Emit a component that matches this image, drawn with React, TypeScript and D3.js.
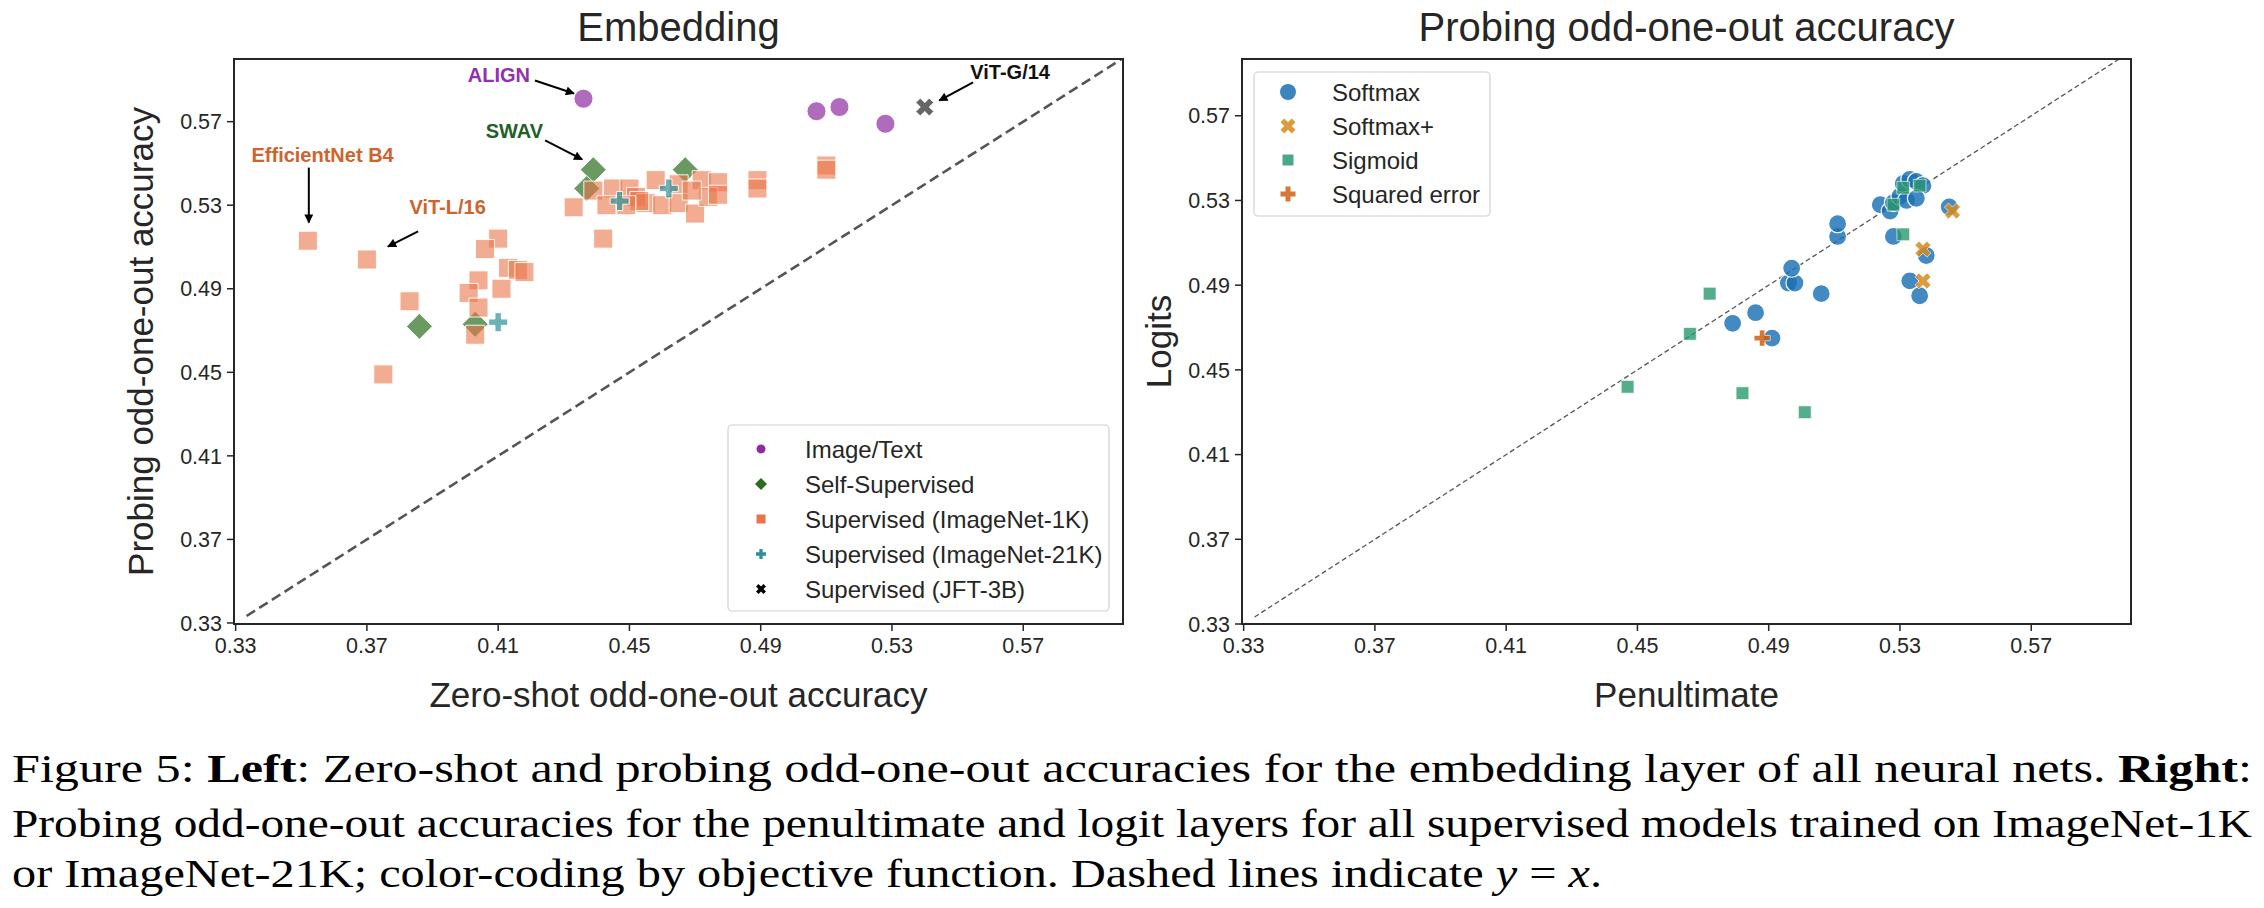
import * as d3 from "d3"

const TICKS = [0.33, 0.37, 0.41, 0.45, 0.49, 0.53, 0.57]

// left panel: [zero-shot, probing]
const imageText = [[0.436, 0.581], [0.507, 0.575], [0.514, 0.577], [0.528, 0.569]]
const selfSupervised = [[0.439, 0.547], [0.437, 0.538], [0.467, 0.547], [0.386, 0.472], [0.403, 0.473]]
const supervised1k = [
  [0.352, 0.513], [0.370, 0.504], [0.383, 0.484], [0.375, 0.449], [0.410, 0.514],
  [0.406, 0.509], [0.413, 0.500], [0.416, 0.499], [0.418, 0.498], [0.404, 0.494],
  [0.401, 0.488], [0.411, 0.490], [0.404, 0.481], [0.403, 0.468], [0.433, 0.529],
  [0.442, 0.514], [0.439, 0.537], [0.445, 0.538], [0.450, 0.538], [0.443, 0.530],
  [0.452, 0.534], [0.455, 0.531], [0.458, 0.542], [0.460, 0.530], [0.465, 0.540],
  [0.465, 0.531], [0.470, 0.526], [0.472, 0.542], [0.477, 0.541], [0.474, 0.534],
  [0.489, 0.542], [0.489, 0.538], [0.510, 0.549], [0.510, 0.547], [0.453, 0.532],
  [0.449, 0.530], [0.469, 0.537], [0.477, 0.535],
]
const supervised21k = [[0.447, 0.532], [0.462, 0.538], [0.410, 0.474]]
const jft3b = [[0.540, 0.577]]

// right panel: [penultimate, logits]
const softmax = [
  [0.479, 0.472], [0.486, 0.477], [0.491, 0.465], [0.496, 0.491], [0.498, 0.491],
  [0.497, 0.498], [0.506, 0.486], [0.511, 0.513], [0.511, 0.519], [0.524, 0.528],
  [0.527, 0.525], [0.528, 0.529], [0.530, 0.532], [0.531, 0.538], [0.533, 0.540],
  [0.535, 0.539], [0.537, 0.537], [0.532, 0.530], [0.535, 0.531], [0.528, 0.513],
  [0.533, 0.492], [0.536, 0.485], [0.538, 0.504], [0.545, 0.527],
]
const softmaxPlus = [[0.546, 0.525], [0.537, 0.507], [0.537, 0.492]]
const sigmoid = [
  [0.447, 0.442], [0.466, 0.467], [0.472, 0.486], [0.482, 0.439], [0.501, 0.430],
  [0.531, 0.536], [0.536, 0.537], [0.528, 0.528], [0.531, 0.514],
]
const squaredError = [[0.488, 0.465]]

const leftLegend = ["Image/Text", "Self-Supervised", "Supervised (ImageNet-1K)", "Supervised (ImageNet-21K)", "Supervised (JFT-3B)"]
const rightLegend = ["Softmax", "Softmax+", "Sigmoid", "Squared error"]

// label, colour, text position, arrow from -> to (all in data units)
const annotations = [
  { label: "ALIGN", color: "#9230b3", text: [0.4197, 0.5892], anchor: "end", from: [0.4212, 0.5897], to: [0.4331, 0.5835] },
  { label: "SWAV", color: "#22602a", text: [0.4237, 0.5624], anchor: "end", from: [0.4243, 0.561], to: [0.4356, 0.5519] },
  { label: "EfficientNet B4", color: "#d0632d", text: [0.3565, 0.5509], anchor: "middle", from: [0.3523, 0.548], to: [0.3523, 0.5217] },
  { label: "ViT-L/16", color: "#d0632d", text: [0.3946, 0.526], anchor: "middle", from: [0.3856, 0.5175], to: [0.3764, 0.5102] },
  { label: "ViT-G/14", color: "#111", text: [0.566, 0.5902], anchor: "middle", from: [0.5547, 0.5888], to: [0.5444, 0.5801] },
]

const FONT = "Liberation Sans, Arial, Helvetica, sans-serif"
const SERIF = "'Liberation Serif', 'Times New Roman', serif"
const INK = "#262626"
const TOP = 59
const BOTTOM = 624
const LEFT_X = [234, 1123]
const RIGHT_X = [1242, 2131]

const crossSize = (e: number) => 5 * (e / 3) ** 2
const xSize = (e: number) => 5 * (e / 2.83) ** 2

type Shape = "circle" | "square" | "diamond" | "plus" | "x"

const Marker = ({ shape, x, y, size, fill, opacity = 1, stroke = "none", sw = 0 }: {
  shape: Shape; x: number; y: number; size: number; fill: string; opacity?: number; stroke?: string; sw?: number
}) => {
  if (shape === "circle")
    return <circle cx={x} cy={y} r={size / 2} fill={fill} fillOpacity={opacity} stroke={stroke} strokeWidth={sw} />
  let d = ""
  let rot = 0
  if (shape === "square") d = d3.symbol(d3.symbolSquare, size * size)()!
  if (shape === "diamond") { d = d3.symbol(d3.symbolSquare, (size * size) / 2)()!; rot = 45 }
  if (shape === "plus") d = d3.symbol(d3.symbolCross, crossSize(size))()!
  if (shape === "x") { d = d3.symbol(d3.symbolCross, xSize(size))()!; rot = 45 }
  return (
    <path d={d} transform={`translate(${x},${y}) rotate(${rot})`} fill={fill} fillOpacity={opacity} stroke={stroke} strokeWidth={sw} />
  )
}

const Axes = ({ x, y, title, xLabel, yLabel, labelX }: {
  x: d3.ScaleLinear<number, number>; y: d3.ScaleLinear<number, number>; title: string; xLabel: string; yLabel: string; labelX: number
}) => {
  const [x0, x1] = x.range()
  const cx = (x0 + x1) / 2
  return (
    <g fontFamily={FONT} fill={INK}>
      <text x={cx} y={41} textAnchor="middle" fontSize={40}>{title}</text>
      {TICKS.map((t) => (
        <g key={"x" + t}>
          <line x1={x(t)} x2={x(t)} y1={BOTTOM} y2={BOTTOM + 7} stroke={INK} strokeWidth={1.5} />
          <text x={x(t)} y={653} textAnchor="middle" fontSize={21.5}>{t.toFixed(2)}</text>
        </g>
      ))}
      {TICKS.map((t) => (
        <g key={"y" + t}>
          <line x1={x0 - 7} x2={x0} y1={y(t)} y2={y(t)} stroke={INK} strokeWidth={1.5} />
          <text x={x0 - 12} y={y(t)} dy="0.36em" textAnchor="end" fontSize={21.5}>{t.toFixed(2)}</text>
        </g>
      ))}
      <text x={cx} y={707} textAnchor="middle" fontSize={35}>{xLabel}</text>
      <text transform={`translate(${labelX},${(TOP + BOTTOM) / 2}) rotate(-90)`} textAnchor="middle" fontSize={35}>{yLabel}</text>
    </g>
  )
}

const Frame = ({ x }: { x: d3.ScaleLinear<number, number> }) => {
  const [x0, x1] = x.range()
  return <rect x={x0} y={TOP} width={x1 - x0} height={BOTTOM - TOP} fill="none" stroke={INK} strokeWidth={2} />
}

export default function App() {
  const xl = d3.scaleLinear().domain([0.3295, 0.6004]).range(LEFT_X)
  const yl = d3.scaleLinear().domain([0.3295, 0.6]).range([BOTTOM, TOP])
  const xr = d3.scaleLinear().domain([0.3295, 0.6004]).range(RIGHT_X)
  const yr = d3.scaleLinear().domain([0.33, 0.5968]).range([BOTTOM, TOP])

  const leftSeries: { data: number[][]; shape: Shape; size: number; color: string; alpha: number; legendSize: number }[] = [
    { data: imageText, shape: "circle", size: 19, color: "#8e2c9f", alpha: 0.7, legendSize: 9 },
    { data: selfSupervised, shape: "diamond", size: 26, color: "#2b6d1e", alpha: 0.7, legendSize: 12 },
    { data: supervised1k, shape: "square", size: 19, color: "#ea7447", alpha: 0.6, legendSize: 9 },
    { data: supervised21k, shape: "plus", size: 19, color: "#2e9096", alpha: 0.7, legendSize: 10 },
    { data: jft3b, shape: "x", size: 18, color: "#000000", alpha: 0.6, legendSize: 10 },
  ]
  const drawOrder = [1, 2, 3, 0, 4]

  const rightSeries: { data: number[][]; shape: Shape; size: number; color: string; alpha: number; legendSize: number }[] = [
    { data: softmax, shape: "circle", size: 18, color: "#1a6fb5", alpha: 0.82, legendSize: 16 },
    { data: softmaxPlus, shape: "x", size: 16, color: "#d68a1c", alpha: 0.85, legendSize: 15 },
    { data: sigmoid, shape: "square", size: 12.7, color: "#2a9a6e", alpha: 0.8, legendSize: 11 },
    { data: squaredError, shape: "plus", size: 16, color: "#cf5f12", alpha: 0.85, legendSize: 15 },
  ]

  const diagEnd = 0.6
  return (
    <svg width={2264} height={908} style={{ position: "absolute", left: 0, top: 0, background: "#fff" }}>
      <defs>
        <marker id="head" viewBox="0 0 10 10" refX={9} refY={5} markerWidth={11} markerHeight={9} markerUnits="userSpaceOnUse" orient="auto">
          <path d="M0,0 L10,5 L0,10 z" fill="#000" />
        </marker>
        <clipPath id="clipL"><rect x={LEFT_X[0]} y={TOP} width={LEFT_X[1] - LEFT_X[0]} height={BOTTOM - TOP} /></clipPath>
        <clipPath id="clipR"><rect x={RIGHT_X[0]} y={TOP} width={RIGHT_X[1] - RIGHT_X[0]} height={BOTTOM - TOP} /></clipPath>
      </defs>
      <rect width={2264} height={908} fill="#fff" />

      {/* ---------- left: embedding ---------- */}
      <Axes x={xl} y={yl} title="Embedding" xLabel="Zero-shot odd-one-out accuracy" yLabel="Probing odd-one-out accuracy" labelX={153} />
      <g clipPath="url(#clipL)">
        <line x1={xl(1 / 3)} y1={yl(1 / 3)} x2={xl(diagEnd)} y2={yl(diagEnd)} stroke="#555" strokeWidth={2.6} strokeDasharray="10,5" />
        {drawOrder.map((si) => {
          const s = leftSeries[si]
          return s.data.map((d, i) => (
            <Marker key={si + "-" + i} shape={s.shape} x={xl(d[0])} y={yl(d[1])} size={s.size} fill={s.color} opacity={s.alpha} stroke="#fff" sw={0.9} />
          ))
        })}
      </g>
      {annotations.map((a) => (
        <g key={a.label}>
          <text x={xl(a.text[0])} y={yl(a.text[1])} textAnchor={a.anchor} fontFamily={FONT} fontWeight="bold" fontSize={20} fill={a.color}>{a.label}</text>
          <line x1={xl(a.from[0])} y1={yl(a.from[1])} x2={xl(a.to[0])} y2={yl(a.to[1])} stroke="#000" strokeWidth={2} markerEnd="url(#head)" />
        </g>
      ))}
      <Frame x={xl} />
      <g fontFamily={FONT}>
        <rect x={728} y={425} width={381} height={186} rx={4} fill="#fff" fillOpacity={0.8} stroke="#d0d0d0" strokeWidth={1.2} />
        {leftLegend.map((name, i) => {
          const s = leftSeries[i]
          const cy = 449 + i * 35
          return (
            <g key={name}>
              <Marker shape={s.shape} x={761} y={cy} size={s.legendSize} fill={s.color} />
              <text x={805} y={cy} dy="0.36em" fontSize={24} fill={INK}>{name}</text>
            </g>
          )
        })}
      </g>

      {/* ---------- right: penultimate vs logits ---------- */}
      <Axes x={xr} y={yr} title="Probing odd-one-out accuracy" xLabel="Penultimate" yLabel="Logits" labelX={1171} />
      <g clipPath="url(#clipR)">
        <line x1={xr(1 / 3)} y1={yr(1 / 3)} x2={xr(diagEnd)} y2={yr(diagEnd)} stroke="#555" strokeWidth={1.3} strokeDasharray="5,3" />
        {rightSeries.map((s, si) =>
          s.data.map((d, i) => (
            <Marker key={si + "-" + i} shape={s.shape} x={xr(d[0])} y={yr(d[1])} size={s.size} fill={s.color} opacity={s.alpha} stroke="#fff" sw={s.shape === "circle" ? 1.2 : 0.6} />
          ))
        )}
      </g>
      <Frame x={xr} />
      <g fontFamily={FONT}>
        <rect x={1254} y={72} width={236} height={144} rx={4} fill="#fff" fillOpacity={0.8} stroke="#d0d0d0" strokeWidth={1.2} />
        {rightLegend.map((name, i) => {
          const s = rightSeries[i]
          const cy = 92 + i * 34
          return (
            <g key={name}>
              <Marker shape={s.shape} x={1288} y={cy} size={s.legendSize} fill={s.color} opacity={0.85} />
              <text x={1332} y={cy} dy="0.36em" fontSize={24} fill={INK}>{name}</text>
            </g>
          )
        })}
      </g>

      {/* ---------- caption ---------- */}
      <g fontFamily={SERIF} fontSize={40} fill="#000">
        <text x={12} y={782} textLength={2240} lengthAdjust="spacingAndGlyphs">
          {"Figure 5: "}<tspan fontWeight="bold">Left</tspan>{": Zero-shot and probing odd-one-out accuracies for the embedding layer of all neural nets. "}<tspan fontWeight="bold">Right</tspan>{":"}
        </text>
        <text x={12} y={837} textLength={2240} lengthAdjust="spacingAndGlyphs">
          Probing odd-one-out accuracies for the penultimate and logit layers for all supervised models trained on ImageNet-1K
        </text>
        <text x={12} y={887} textLength={1590} lengthAdjust="spacingAndGlyphs">
          {"or ImageNet-21K; color-coding by objective function. Dashed lines indicate "}<tspan fontStyle="italic">y</tspan>{" = "}<tspan fontStyle="italic">x</tspan>{"."}
        </text>
      </g>
    </svg>
  )
}
